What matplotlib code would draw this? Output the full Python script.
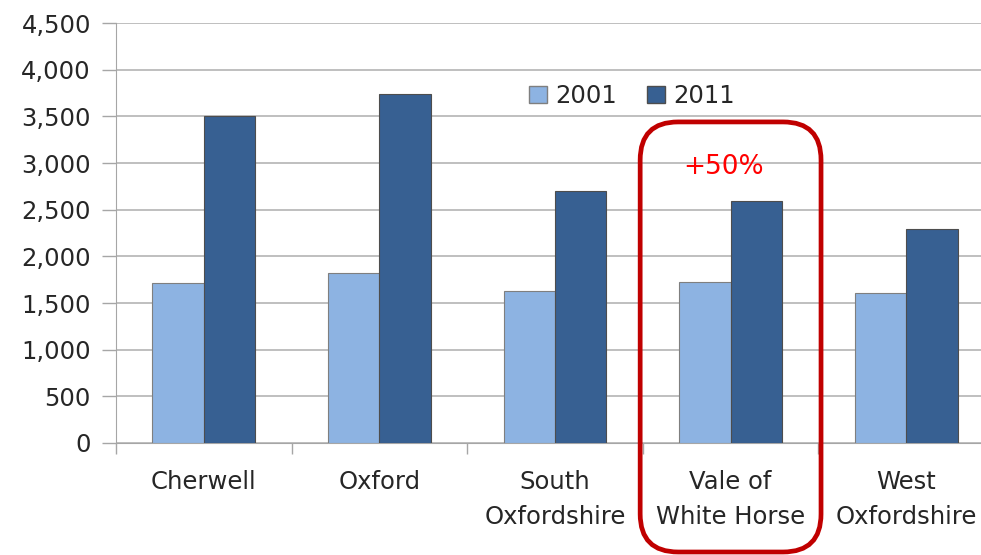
import matplotlib
matplotlib.use("Agg")
import matplotlib.pyplot as plt
from matplotlib.patches import FancyBboxPatch, Patch
from matplotlib.ticker import FuncFormatter, MultipleLocator
import numpy as np

districts = ["Cherwell", "Oxford", "South\nOxfordshire", "Vale of\nWhite Horse", "West\nOxfordshire"]
values_2001 = [1710, 1825, 1632, 1728, 1611]
values_2011 = [3500, 3735, 2703, 2593, 2293]
series_labels = ["2001", "2011"]
highlight_idx = 3
highlight_text = "+50%"

c2001 = "#8DB3E2"
c2011 = "#376092"
grid_c = "#BFBFBF"
text_c = "#262626"

W, H = 981, 555
fig = plt.figure(figsize=(W / 100, H / 100), dpi=100)
ax = fig.add_axes([116 / W, (H - 443) / H, 878 / W, 420 / H])

x = np.arange(len(districts))
bw = 0.293
ax.bar(x - bw / 2, values_2001, bw, color=c2001, edgecolor="#7F7F7F", linewidth=0.8, zorder=3)
ax.bar(x + bw / 2, values_2011, bw, color=c2011, edgecolor="#4D4D4D", linewidth=0.8, zorder=3)

ax.set_xlim(-0.5, len(districts) - 0.5)
ax.set_ylim(0, 4500)
ax.yaxis.set_major_locator(MultipleLocator(500))
ax.yaxis.set_major_formatter(FuncFormatter(lambda v, p: f"{int(v):,}"))
ax.grid(axis="y", color=grid_c, linewidth=1.4, zorder=0)

for s in ["top", "right"]:
    ax.spines[s].set_visible(False)
ax.spines["left"].set_color("#A6A6A6")
ax.spines["bottom"].set_color("#A6A6A6")

ax.tick_params(axis="y", length=10, width=1.0, color="#A6A6A6", labelsize=17.5,
               labelcolor=text_c, pad=8)
ax.set_xticks(np.arange(len(districts) + 1) - 0.5)
ax.set_xticklabels([])
ax.tick_params(axis="x", length=8, width=1.0, color="#A6A6A6")
for i, name in enumerate(districts):
    ax.text(i, -285, name, ha="center", va="top", fontsize=17.5, color=text_c,
            linespacing=1.6)

handles = [Patch(facecolor=c2001, edgecolor="#7F7F7F"),
           Patch(facecolor=c2011, edgecolor="#4D4D4D")]
fig.legend(handles, series_labels, loc="center", bbox_to_anchor=(632 / W, 1 - 96 / H),
           ncol=2, frameon=False, fontsize=17.5, handlelength=0.75, handleheight=0.75,
           handletextpad=0.35, columnspacing=1.2, labelcolor=text_c)

# highlight box around one district, positioned from the data scale
x0, _ = ax.transData.transform((highlight_idx - 0.515, 0))
x1, _ = ax.transData.transform((highlight_idx + 0.515, 0))
_, ytop = ax.transData.transform((0, 3440))
ybot = H - 552
box = FancyBboxPatch((x0, ybot), x1 - x0, ytop - ybot,
                     boxstyle="round,pad=0,rounding_size=38",
                     transform=None, fill=False, edgecolor="#C00000", linewidth=3.4,
                     clip_on=False, zorder=5)
fig.patches.append(box)
ax.text(highlight_idx - 0.04, 2960, highlight_text, ha="center", va="center",
        fontsize=19, color="#FF0000", zorder=6)

fig.savefig("out.png", dpi=100)
